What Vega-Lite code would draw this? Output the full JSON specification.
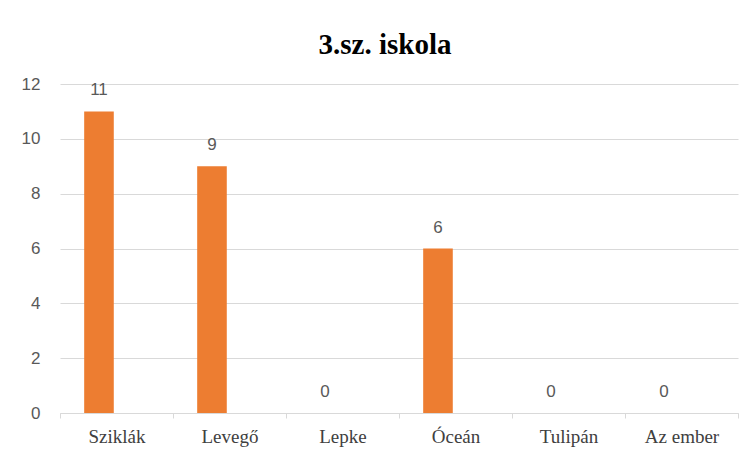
{
  "$schema": "https://vega.github.io/schema/vega-lite/v6.json",
  "width": 678,
  "height": 329,
  "autosize": "none",
  "padding": {"left": 60, "top": 84, "right": 10, "bottom": 44},
  "background": "white",
  "config": {"view": {"stroke": null}},
  "title": {
    "text": "3.sz. iskola",
    "font": "Liberation Serif",
    "fontSize": 29,
    "fontWeight": "bold",
    "color": "#000000",
    "anchor": "middle",
    "offset": 15,
    "dx": -14
  },
  "data": {
    "values": [
      {"kategoria": "Sziklák", "sorozat": "A", "ertek": 11},
      {"kategoria": "Levegő", "sorozat": "A", "ertek": 9},
      {"kategoria": "Lepke", "sorozat": "A", "ertek": 0},
      {"kategoria": "Óceán", "sorozat": "A", "ertek": 6},
      {"kategoria": "Tulipán", "sorozat": "A", "ertek": 0},
      {"kategoria": "Az ember", "sorozat": "A", "ertek": 0}
    ]
  },
  "encoding": {
    "x": {
      "field": "kategoria",
      "type": "nominal",
      "sort": null,
      "scale": {"paddingInner": 0, "paddingOuter": 0},
      "axis": {
        "title": null,
        "labelAngle": 0,
        "labelFont": "Liberation Serif",
        "labelFontSize": 19,
        "labelColor": "#404040",
        "labelPadding": 9,
        "domainColor": "#d9d9d9",
        "tickColor": "#d9d9d9",
        "tickSize": 5,
        "tickBand": "extent",
        "grid": false
      }
    },
    "xOffset": {
      "field": "sorozat",
      "type": "nominal",
      "scale": {"domain": ["A", "B"], "paddingInner": 0.155, "paddingOuter": 0.69}
    },
    "y": {
      "field": "ertek",
      "type": "quantitative",
      "scale": {"domain": [0, 12]},
      "axis": {
        "title": null,
        "values": [0, 2, 4, 6, 8, 10, 12],
        "domain": false,
        "ticks": false,
        "labelFont": "Liberation Sans Narrow, Liberation Sans, Arial",
        "labelFontSize": 17,
        "labelColor": "#595959",
        "labelPadding": 20,
        "gridColor": "#d9d9d9"
      }
    }
  },
  "layer": [
    {"mark": {"type": "bar", "color": "#ED7D31"}},
    {
      "mark": {
        "type": "text",
        "baseline": "bottom",
        "dy": -12,
        "font": "Liberation Sans Narrow, Liberation Sans, Arial",
        "fontSize": 17,
        "color": "#595959"
      },
      "encoding": {"text": {"field": "ertek", "type": "quantitative"}}
    }
  ]
}
